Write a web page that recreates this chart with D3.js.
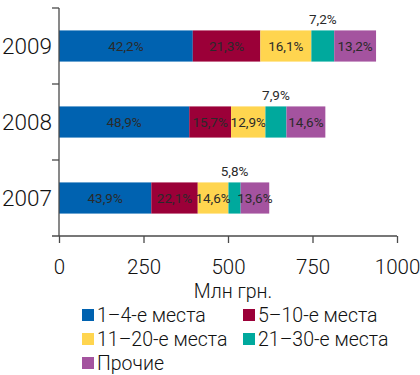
<!DOCTYPE html>
<html>
<head>
<meta charset="utf-8">
<script src="https://cdn.jsdelivr.net/npm/d3@7/dist/d3.min.js"></script>
<style>
  body { margin: 0; background: #fff; }
  svg { display: block; font-family: Roboto, "Liberation Sans", sans-serif; }
</style>
</head>
<body>
<svg id="chart" width="420" height="375"></svg>
<script>
// years, top to bottom
var years = ['2009', '2008', '2007'];
// total volume, mln UAH
var totals = [938, 788, 622];
// share of each group, %
var series = ['1–4-е места', '5–10-е места', '11–20-е места', '21–30-е места', 'Прочие'];
var shares = [
  [42.2, 21.3, 16.1, 7.2, 13.2],
  [48.9, 15.7, 12.9, 7.9, 14.6],
  [43.9, 22.1, 14.6, 5.8, 13.6]
];
var xTicks = [0, 250, 500, 750, 1000];
var colors = ['#0062b0', '#9b0038', '#ffd54f', '#00a99d', '#a4539f'];

(function() {
  var svg = d3.select('#chart');
  var left = 59, right = 397, plotTop = 8, plotBottom = 236;

  var x = d3.scaleLinear().domain([0, 1000]).range([left, right]);
  var y = d3.scaleBand().domain(years).range([plotTop, plotBottom])
    .paddingInner(0.59).paddingOuter(0.295);

  // stack rows
  var rows = years.map(function(yr, i) {
    var acc = 0;
    return shares[i].map(function(s, k) {
      var v = totals[i] * s / 100;
      var seg = { year: yr, k: k, share: s, x0: acc, x1: acc + v };
      acc += v;
      return seg;
    });
  });

  var g = svg.append('g');
  rows.forEach(function(row) {
    g.selectAll(null).data(row).enter().append('rect')
      .attr('x', function(d) { return x(d.x0); })
      .attr('y', function(d) { return y(d.year); })
      .attr('width', function(d) { return x(d.x1) - x(d.x0); })
      .attr('height', y.bandwidth())
      .attr('fill', function(d) { return colors[d.k]; });

    g.selectAll(null).data(row).enter().append('text')
      .attr('x', function(d) { return (x(d.x0) + x(d.x1)) / 2; })
      .attr('y', function(d) {
        return d.k === 3 ? y(d.year) - 6 : y(d.year) + y.bandwidth() / 2 + 5;
      })
      .attr('text-anchor', 'middle')
      .attr('font-size', 13.5)
      .attr('fill', '#2a2a2a')
      .text(function(d) { return d.share.toFixed(1).replace('.', ',') + '%'; });
  });

  // axes
  var axisColor = '#4a4a4a';
  var step = y.step();
  svg.append('line')
    .attr('x1', left).attr('x2', left).attr('y1', plotTop).attr('y2', plotBottom)
    .attr('stroke', axisColor).attr('stroke-width', 1.3);
  years.forEach(function(yr) {
    var yb = y(yr) - step * y.paddingInner() / 2;
    svg.append('line').attr('x1', left - 7).attr('x2', left)
      .attr('y1', yb).attr('y2', yb)
      .attr('stroke', axisColor).attr('stroke-width', 1.3);
    svg.append('text')
      .attr('x', 52).attr('y', y(yr) + y.bandwidth() / 2 + 8)
      .attr('text-anchor', 'end')
      .attr('font-size', 22.5)
      .attr('font-weight', 300)
      .attr('fill', '#111')
      .text(yr);
  });

  var xAxis = svg.append('g')
    .attr('transform', 'translate(0,' + plotBottom + ')')
    .call(d3.axisBottom(x).tickValues(xTicks).tickFormat(d3.format('d'))
      .tickSize(7).tickPadding(16).tickSizeOuter(0));
  xAxis.select('.domain').remove();
  xAxis.selectAll('line').attr('stroke', axisColor).attr('stroke-width', 1.3);
  xAxis.selectAll('text').attr('font-size', 20.5).attr('font-weight', 300).attr('fill', '#111')
    .attr('font-family', 'Roboto, sans-serif');
  svg.append('line')
    .attr('x1', left - 7).attr('x2', right).attr('y1', plotBottom).attr('y2', plotBottom)
    .attr('stroke', axisColor).attr('stroke-width', 1.3);

  svg.append('text')
    .attr('x', 233).attr('y', 298)
    .attr('text-anchor', 'middle')
    .attr('font-size', 19.5)
    .attr('font-weight', 300)
    .attr('fill', '#111')
    .text('Млн грн.');

  // legend
  var legPos = [[82, 322], [243, 322], [82, 346], [243, 346], [82, 370]];
  var leg = svg.selectAll('.leg').data(series).enter().append('g')
    .attr('class', 'leg')
    .attr('transform', function(d, i) { return 'translate(' + legPos[i][0] + ',' + legPos[i][1] + ')'; });
  leg.append('rect')
    .attr('x', 0).attr('y', -13).attr('width', 12).attr('height', 12)
    .attr('fill', function(d, i) { return colors[i]; });
  leg.append('text')
    .attr('x', 15).attr('y', 0)
    .attr('font-size', 19.5)
    .attr('font-weight', 300)
    .attr('fill', '#111')
    .text(function(d) { return d; });
})();
</script>
</body>
</html>
